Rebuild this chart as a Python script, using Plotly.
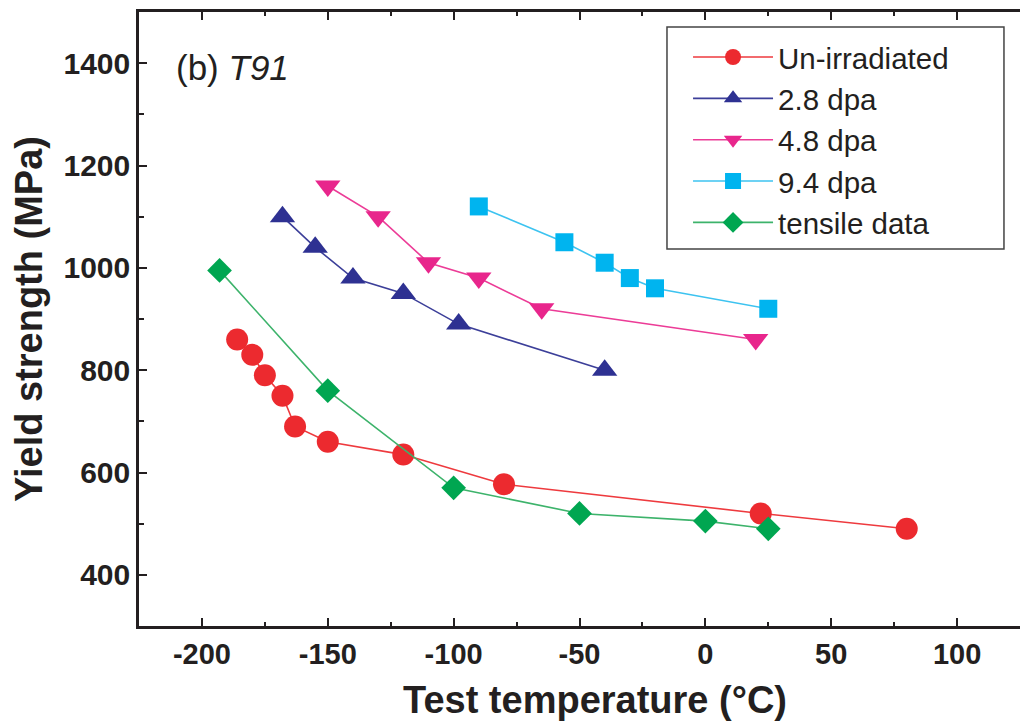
import plotly.graph_objects as go

# ---- data ----
unirr_T = [-186, -180, -175, -168, -163, -150, -120, -80, 22, 80]
unirr_Y = [860, 830, 790, 750, 690, 660, 635, 577, 520, 490]

dpa28_T = [-168, -155, -140, -120, -98, -40]
dpa28_Y = [1100, 1040, 980, 950, 890, 800]

dpa48_T = [-150, -130, -110, -90, -65, 20]
dpa48_Y = [1160, 1100, 1010, 980, 920, 860]

dpa94_T = [-90, -56, -40, -30, -20, 25]
dpa94_Y = [1120, 1050, 1010, 980, 960, 920]

tensile_T = [-193, -150, -100, -50, 0, 25]
tensile_Y = [995, 760, 570, 520, 505, 490]

x_tickvals = [-200, -150, -100, -50, 0, 50, 100]
x_ticktext = ["-200", "-150", "-100", "-50", "0", "50", "100"]

series = [
    ("Un-irradiated", unirr_T, unirr_Y, "circle", 22, "#EC2A2F", "#EE3A3E"),
    ("2.8 dpa", dpa28_T, dpa28_Y, "triangle-up", 22, "#2E3192", "#3C3F99"),
    ("4.8 dpa", dpa48_T, dpa48_Y, "triangle-down", 22, "#E8268C", "#EC3C97"),
    ("9.4 dpa", dpa94_T, dpa94_Y, "square", 18, "#00B4EF", "#3DC3F0"),
    ("tensile data", tensile_T, tensile_Y, "diamond", 19, "#00A651", "#3DB36B"),
]

FONT = "Liberation Sans, Arial, sans-serif"
INK = "#231F20"

fig = go.Figure()
for name, xs, ys, sym, sz, mcol, lcol in series:
    fig.add_trace(go.Scatter(
        x=xs, y=ys, name=name, mode="lines+markers",
        line=dict(color=lcol, width=1.6),
        marker=dict(symbol=sym, size=sz, color=mcol, line=dict(width=0)),
    ))

fig.update_layout(
    width=1020, height=722,
    margin=dict(l=139, r=0, t=12, b=96),
    paper_bgcolor="white", plot_bgcolor="white",
    font=dict(family=FONT, color=INK),
    showlegend=True,
    legend=dict(
        x=0.6232, y=0.9685, xanchor="left", yanchor="top",
        borderwidth=0, bgcolor="rgba(0,0,0,0)",
        font=dict(family=FONT, size=29.5, color=INK),
        itemwidth=80, tracegroupgap=0,
    ),
    shapes=[dict(
        type="rect", xref="paper", yref="paper",
        x0=0.5993, x1=0.9818, y0=0.614, y1=0.9756,
        line=dict(color="#444444", width=1.5), fillcolor="rgba(0,0,0,0)",
        layer="above",
    )],
    xaxis=dict(
        range=[-225, 125], tickmode="array", tickvals=x_tickvals, ticktext=x_ticktext,
        ticks="inside", ticklen=8, tickwidth=2, tickcolor=INK,
        showline=True, linewidth=2.5, linecolor=INK, mirror="ticks",
        showgrid=False, zeroline=False,
        minor=dict(tickmode="linear", tick0=0, dtick=25, ticks="inside", ticklen=4, tickwidth=2, tickcolor=INK),
        tickfont=dict(family=FONT, size=29, color=INK, weight="bold"),
    ),
    yaxis=dict(
        range=[300, 1500], tickmode="linear", tick0=0, dtick=200,
        ticks="inside", ticklen=8, tickwidth=2, tickcolor=INK,
        showline=True, linewidth=2.5, linecolor=INK, mirror=False,
        showgrid=False, zeroline=False,
        minor=dict(dtick=100, ticks="inside", ticklen=5, tickwidth=2, tickcolor=INK),
        tickfont=dict(family=FONT, size=30, color=INK, weight="bold"),
        title=dict(text="Yield strength (MPa)", standoff=10,
                   font=dict(family=FONT, size=38, color=INK, weight="bold")),
    ),
    yaxis2=dict(
        overlaying="y", side="right", matches="y", range=[300, 1500],
        tickmode="linear", tick0=0, dtick=200,
        ticks="inside", ticklen=8, tickwidth=2, tickcolor=INK,
        showline=False, showgrid=False, zeroline=False, showticklabels=False,
        minor=dict(dtick=100, ticks="inside", ticklen=5, tickwidth=2, tickcolor=INK),
    ),
    annotations=[
        dict(
            text="(b) <i>T91</i>", xref="paper", yref="paper",
            x=0.04, y=0.91, xanchor="left", yanchor="middle", showarrow=False,
            font=dict(family=FONT, size=35, color=INK),
        ),
        dict(
            text="<b>Test temperature (°C)</b>", xref="paper", yref="paper",
            x=0.5176, y=-0.1205, xanchor="center", yanchor="middle", showarrow=False,
            font=dict(family=FONT, size=38, color=INK),
        ),
    ],
)

fig.write_html("out.html")
